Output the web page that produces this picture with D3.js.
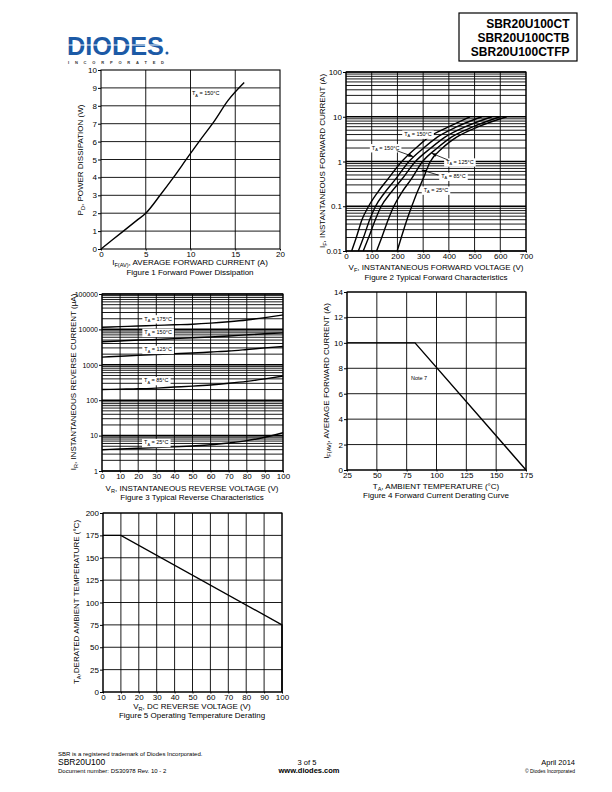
<!DOCTYPE html>
<html><head><meta charset="utf-8">
<script src="https://cdn.jsdelivr.net/npm/d3@7"></script>
<style>
body{margin:0;background:#fff}
svg{display:block}
text{font-family:"Liberation Sans",Arial,Helvetica,sans-serif;fill:#000}
</style>
</head><body>
<svg id="page" width="612" height="792"></svg>
<script>
// ---------------- DATA ----------------
// Figure 1: forward power dissipation
const fig1Current = [0, 2.5, 4, 5, 6.6, 8.1, 9.8, 11.1, 12.6, 14.2, 16];
const fig1Power   = [0, 1.0, 1.6, 2.0, 3.0, 4.0, 5.2, 6.1, 7.1, 8.3, 9.3];
const fig1XTicks = [0, 5, 10, 15, 20];
const fig1YTicks = [0,1,2,3,4,5,6,7,8,9,10];

// Figure 2: typical forward characteristics (IF in A)
const fig2Current = [0.01, 0.02, 0.05, 0.1, 0.2, 0.4, 1, 2, 3.5, 6, 10];
const fig2V_175 = [22, 40, 62, 88, 122, 162, 217, 272, 322, 400, 482];
const fig2V_150 = [48, 68, 92, 115, 150, 192, 245, 302, 355, 432, 528];
const fig2V_125 = [67, 88, 114, 137, 174, 217, 270, 330, 385, 465, 567];
const fig2V_85  = [119, 139, 164, 186, 216, 253, 298, 355, 410, 495, 599];
const fig2V_25  = [199, 215, 237, 256, 276, 299, 328, 375, 430, 515, 625];
const fig2XTicks = [0,100,200,300,400,500,600,700];
const fig2YTicks = [0.01, 0.1, 1, 10, 100];
const fig2LabelTemps = ["150", "150", "125", "85", "25"];
const fig2LabelV = [280, 154, 443, 418, 350];
const fig2LabelI = [4.1, 2.04, 0.98, 0.47, 0.23];
const fig2ArrowFrom = [[197, 1.75], [397, 1.08], [358, 0.50]];
const fig2ArrowTo   = [[262, 1.28], [333, 1.53], [294, 0.645]];

// Figure 3: typical reverse characteristics (uA)
const fig3Voltage = [0,10,20,30,40,50,60,70,80,90,100];
const fig3I_175 = [11500,12000,12500,13000,13500,14000,15000,16500,18500,21500,25500];
const fig3I_150 = [4500,4700,5000,5200,5500,5800,6100,6500,7000,7500,8000];
const fig3I_125 = [1650,1750,1850,1950,2050,2150,2300,2450,2700,3000,3300];
const fig3I_85  = [200,205,210,220,235,250,270,300,340,400,480];
const fig3I_25  = [4,4.2,4.4,4.6,4.8,5.1,5.5,6.2,7.2,9,12];
const fig3YTicks = [1,10,100,1000,10000,100000];
const fig3LabelTemps = ["175","150","125","85","25"];
const fig3LabelV = [31, 31, 31, 30, 30];
const fig3LabelI = [20000, 8300, 2740, 360, 6.4];

// Figure 4: forward current derating
const fig4Temp = [25, 82, 175];
const fig4Current = [10, 10, 0];
const fig4XTicks = [25,50,75,100,125,150,175];
const fig4YTicks = [0,2,4,6,8,10,12,14];

// Figure 5: operating temperature derating
const fig5Voltage = [0, 10, 100, 100];
const fig5Temp = [175, 175, 75, 0];
const fig5XTicks = [0,10,20,30,40,50,60,70,80,90,100];
const fig5YTicks = [0,25,50,75,100,125,150,175,200];

// ---------------- DRAWING ----------------
const svg = d3.select("#page");
const defs = svg.append("defs");
defs.append("marker").attr("id","arr").attr("viewBox","0 0 8 6").attr("refX",8).attr("refY",3)
  .attr("markerWidth",5).attr("markerHeight",4).attr("orient","auto").attr("markerUnits","userSpaceOnUse")
  .append("path").attr("d","M0,0 L8,3 L0,6 Z").attr("fill","#000");

function richText(parent, x, y, parts, o) {
  o = o || {};
  const size = o.size || 8;
  const t = parent.append("text").attr("x", x).attr("y", y)
    .attr("font-size", size).attr("text-anchor", o.anchor || "middle");
  if (o.weight) t.attr("font-weight", o.weight);
  if (o.rotate) t.attr("transform", `rotate(-90,${x},${y})`);
  let shifted = false;
  parts.forEach(p => {
    const s = typeof p === "string" ? p : p[0];
    const sub = typeof p !== "string";
    const ts = t.append("tspan").text(s);
    if (sub) { ts.attr("font-size", size * 0.7); if (!shifted) { ts.attr("dy", size*0.25); shifted = true; } }
    else if (shifted) { ts.attr("dy", -size*0.25); shifted = false; }
  });
  return t;
}

function logGrid(lo, hi) {
  const out = [];
  for (let d = lo; d < hi * 0.999; d *= 10) for (let k = 1; k <= 9; k++) out.push(d * k);
  out.push(hi);
  return out;
}

function panel(c) {
  const g = svg.append("g");
  const x = d3.scaleLinear().domain(c.xDomain).range([c.left, c.right]);
  const y = (c.yLog ? d3.scaleLog() : d3.scaleLinear()).domain(c.yDomain).range([c.bottom, c.top]);
  g.selectAll("line.vg").data(c.xGrid).join("line").attr("class","vg")
    .attr("x1", d => x(d)).attr("x2", d => x(d)).attr("y1", c.top).attr("y2", c.bottom)
    .attr("stroke", "#000").attr("stroke-width", 0.9);
  g.selectAll("line.hg").data(c.yGrid).join("line").attr("class","hg")
    .attr("x1", c.left).attr("x2", c.right).attr("y1", d => y(d)).attr("y2", d => y(d))
    .attr("stroke", "#000").attr("stroke-width", d => (c.yLog && Math.abs(Math.log10(d) - Math.round(Math.log10(d))) < 1e-6) ? 1.6 : 0.9);
  g.append("rect").attr("x", c.left).attr("y", c.top).attr("width", c.right - c.left).attr("height", c.bottom - c.top)
    .attr("fill", "none").attr("stroke", "#000").attr("stroke-width", 1.1);
  const ax = d3.axisBottom(x).tickValues(c.xTicks).tickSize(1.5).tickPadding(0.5).tickFormat(c.xFmt || d3.format("d"));
  g.append("g").attr("transform", `translate(0,${c.bottom})`).call(ax)
    .call(s => s.select(".domain").remove())
    .attr("font-size", c.xTickSize || 8).attr("font-family", null);
  const ay = d3.axisLeft(y).tickValues(c.yTicks).tickSize(3).tickPadding(1).tickFormat(c.yFmt || d3.format("d"));
  g.append("g").attr("transform", `translate(${c.left},0)`).call(ay)
    .call(s => s.select(".domain").remove())
    .attr("font-size", c.yTickSize || 8).attr("font-family", null);
  g.selectAll(".tick line").attr("stroke", "#000");
  return { g, x, y };
}

function labelBox(g, cx, cy, temp, size) {
  const t = richText(g, cx, cy + size * 0.35, ["T", ["A"], " = " + temp + "°C"], { size: size });
  const b = t.node().getBBox();
  g.insert("rect", () => t.node()).attr("x", b.x - 2).attr("y", b.y - 0.5).attr("width", b.width + 4).attr("height", b.height + 1)
    .attr("fill", "#fff");
  return t;
}

// ---- Header ----
const logo = svg.append("g");
logo.append("text").attr("x", 67).attr("y", 54.5).attr("font-size", 26).attr("font-weight", "bold")
  .attr("textLength", 97).attr("lengthAdjust", "spacingAndGlyphs")
  .style("fill", "#1c5aa6").text("DIODES");
logo.append("line").attr("x1", 67).attr("x2", 164).attr("y1", 45).attr("y2", 45).attr("stroke", "#fff").attr("stroke-width", 1.2);
logo.append("circle").attr("cx", 167).attr("cy", 53).attr("r", 1.5).attr("fill", "#1c5aa6");
logo.append("text").attr("x", 68).attr("y", 64).attr("font-size", 4).attr("font-weight", "bold")
  .attr("textLength", 96).attr("lengthAdjust", "spacing").style("fill", "#333").text("INCORPORATED");

svg.append("rect").attr("x", 459).attr("y", 13).attr("width", 118).attr("height", 48)
  .attr("fill", "none").attr("stroke", "#000").attr("stroke-width", 1.2);
["SBR20U100CT", "SBR20U100CTB", "SBR20U100CTFP"].forEach((s, i) => {
  svg.append("text").attr("x", 569.5).attr("y", 27.5 + i * 14.3).attr("text-anchor", "end")
    .attr("font-size", 12).attr("font-weight", "bold").text(s);
});

// ---- Figure 1 ----
{
  const p = panel({ left: 101, right: 280, top: 70, bottom: 249, xDomain: [0, 20], yDomain: [0, 10],
    xGrid: [5, 10, 15], yGrid: [1,2,3,4,5,6,7,8,9], xTicks: fig1XTicks, yTicks: fig1YTicks });
  const line = d3.line().x(i => p.x(fig1Current[i])).y(i => p.y(fig1Power[i])).curve(d3.curveMonotoneX);
  p.g.append("path").attr("d", line(d3.range(fig1Current.length))).attr("fill", "none").attr("stroke", "#000").attr("stroke-width", 1.4);
  richText(p.g, p.x(11.7), p.y(8.7) + 2, ["T", ["A"], " = 150°C"], { size: 5.5 });
  richText(p.g, 83, 160, ["P", ["D"], ", POWER DISSIPATION (W)"], { size: 8, rotate: true });
  richText(p.g, 190, 265, ["I", ["F(AV)"], ", AVERAGE FORWARD CURRENT (A)"], { size: 8 });
  richText(p.g, 190, 275, ["Figure 1 Forward Power Dissipation"], { size: 8 });
}

// ---- Figure 2 ----
{
  const p = panel({ left: 346, right: 526, top: 72, bottom: 251, xDomain: [0, 700], yDomain: [0.01, 100], yLog: true,
    xGrid: fig2XTicks, yGrid: logGrid(0.01, 100), xTicks: fig2XTicks, yTicks: fig2YTicks,
    yFmt: d => d < 1 ? String(d) : d3.format("d")(d) });
  const series = [fig2V_175, fig2V_150, fig2V_125, fig2V_85, fig2V_25];
  series.forEach(vs => {
    const line = d3.line().x(i => p.x(vs[i])).y(i => p.y(fig2Current[i])).curve(d3.curveMonotoneX);
    p.g.append("path").attr("d", line(d3.range(vs.length))).attr("fill", "none").attr("stroke", "#000").attr("stroke-width", 1.4);
  });
  fig2LabelTemps.forEach((t, i) => labelBox(p.g, p.x(fig2LabelV[i]), p.y(fig2LabelI[i]), t, 5.5));
  fig2ArrowFrom.forEach((f, i) => {
    const to = fig2ArrowTo[i];
    p.g.append("line").attr("x1", p.x(f[0])).attr("y1", p.y(f[1])).attr("x2", p.x(to[0])).attr("y2", p.y(to[1]))
      .attr("stroke", "#000").attr("stroke-width", 0.8).attr("marker-end", "url(#arr)");
  });
  richText(p.g, 325, 161, ["I", ["F"], ", INSTANTANEOUS FORWARD CURRENT (A)"], { size: 8, rotate: true });
  richText(p.g, 436, 270, ["V", ["F"], ", INSTANTANEOUS FORWARD VOLTAGE (V)"], { size: 8 });
  richText(p.g, 436, 280, ["Figure 2 Typical Forward Characteristics"], { size: 8 });
}

// ---- Figure 3 ----
{
  const p = panel({ left: 102, right: 283, top: 294, bottom: 471, xDomain: [0, 100], yDomain: [1, 100000], yLog: true,
    xGrid: fig3Voltage, yGrid: logGrid(1, 100000), xTicks: fig3Voltage, yTicks: fig3YTicks, yTickSize: 7 });
  const series = [fig3I_175, fig3I_150, fig3I_125, fig3I_85, fig3I_25];
  series.forEach(is => {
    const line = d3.line().x(i => p.x(fig3Voltage[i])).y(i => p.y(is[i])).curve(d3.curveMonotoneX);
    p.g.append("path").attr("d", line(d3.range(is.length))).attr("fill", "none").attr("stroke", "#000").attr("stroke-width", 1.4);
  });
  fig3LabelTemps.forEach((t, i) => labelBox(p.g, p.x(fig3LabelV[i]), p.y(fig3LabelI[i]), t, 5.5));
  richText(p.g, 76, 382, ["I", ["R"], ", INSTANTANEOUS REVERSE CURRENT (µA)"], { size: 8, rotate: true });
  richText(p.g, 192, 491, ["V", ["R"], ", INSTANTANEOUS REVERSE VOLTAGE (V)"], { size: 8 });
  richText(p.g, 192, 500, ["Figure 3 Typical Reverse Characteristics"], { size: 8 });
}

// ---- Figure 4 ----
{
  const p = panel({ left: 347, right: 526, top: 292, bottom: 470, xDomain: [25, 175], yDomain: [0, 14],
    xGrid: fig4XTicks, yGrid: fig4YTicks, xTicks: fig4XTicks, yTicks: fig4YTicks });
  const line = d3.line().x(i => p.x(fig4Temp[i])).y(i => p.y(fig4Current[i]));
  p.g.append("path").attr("d", line(d3.range(fig4Temp.length))).attr("fill", "none").attr("stroke", "#000").attr("stroke-width", 1.4);
  richText(p.g, p.x(85.4), p.y(7.2) + 2, ["Note 7"], { size: 5.5 });
  richText(p.g, 329, 381, ["I", ["F(AV)"], ", AVERAGE FORWARD CURRENT (A)"], { size: 8, rotate: true });
  richText(p.g, 436, 489, ["T", ["A"], ", AMBIENT TEMPERATURE (°C)"], { size: 8 });
  richText(p.g, 436, 498, ["Figure 4  Forward Current Derating Curve"], { size: 8 });
}

// ---- Figure 5 ----
{
  const p = panel({ left: 103, right: 282, top: 513, bottom: 692, xDomain: [0, 100], yDomain: [0, 200],
    xGrid: fig5XTicks, yGrid: fig5YTicks, xTicks: fig5XTicks, yTicks: fig5YTicks });
  const line = d3.line().x(i => p.x(fig5Voltage[i])).y(i => p.y(fig5Temp[i]));
  p.g.append("path").attr("d", line(d3.range(fig5Voltage.length))).attr("fill", "none").attr("stroke", "#000").attr("stroke-width", 1.4);
  richText(p.g, 79, 602, ["T", ["A"], ",DERATED AMBIENT TEMPERATURE (°C)"], { size: 8, rotate: true });
  richText(p.g, 192, 709, ["V", ["R"], ", DC REVERSE VOLTAGE (V)"], { size: 8 });
  richText(p.g, 192, 718, ["Figure 5 Operating Temperature Derating"], { size: 8 });
}

// ---- Footer ----
svg.append("text").attr("x", 58).attr("y", 756).attr("font-size", 6).text("SBR is a registered trademark of Diodes Incorporated.");
svg.append("text").attr("x", 58).attr("y", 765).attr("font-size", 8.5).text("SBR20U100");
svg.append("text").attr("x", 58).attr("y", 773).attr("font-size", 6).text("Document number: DS30978 Rev. 10 - 2");
svg.append("text").attr("x", 307).attr("y", 765).attr("font-size", 7.5).attr("text-anchor", "middle").text("3 of 5");
svg.append("text").attr("x", 309).attr("y", 773).attr("font-size", 7.5).attr("font-weight", "bold").attr("text-anchor", "middle").text("www.diodes.com");
svg.append("text").attr("x", 575).attr("y", 765).attr("font-size", 7.5).attr("text-anchor", "end").text("April 2014");
svg.append("text").attr("x", 575).attr("y", 773).attr("font-size", 5).attr("text-anchor", "end").text("© Diodes Incorporated");
</script>
</body></html>
